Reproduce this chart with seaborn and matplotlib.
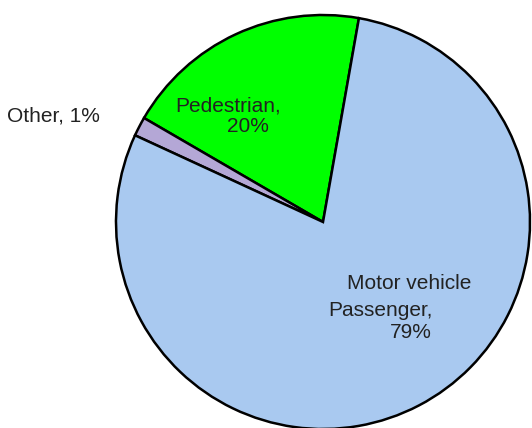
import matplotlib
matplotlib.use("Agg")
import matplotlib.pyplot as plt
import seaborn as sns

categories = ["Pedestrian", "Other", "Motor vehicle Passenger"]
shares = [19.4, 1.5, 79.1]
colors = ["#00ff00", "#b4a7d6", "#a9c9f0"]

# label lines: (text, left px, baseline px)
label_lines = [
    ("Other, 1%", 7, 121),
    ("Pedestrian,", 175, 111),
    ("20%", 227, 132),
    ("Motor vehicle", 347, 289),
    ("Passenger,", 328, 316),
    ("79%", 390, 338),
]

sns.set_theme(style="white")
plt.rcParams["font.family"] = ["Liberation Sans", "DejaVu Sans"]

W, H = 532, 428
CX, CY, R = 323, 222, 207

fig = plt.figure(figsize=(W / 100, H / 100), dpi=100)
ax = fig.add_axes([0, 0, 1, 1])
ax.pie(shares, colors=colors, startangle=80, counterclock=True,
       wedgeprops=dict(edgecolor="black", linewidth=1.8))
ax.set_xlim(-CX / R, (W - CX) / R)
ax.set_ylim(-(H - CY) / R, CY / R)
ax.set_aspect("equal")
ax.axis("off")

for text, px, py in label_lines:
    ax.text((px - CX) / R, (CY - py) / R, text, ha="left", va="baseline",
            fontsize=15, color="#222222")

fig.savefig("out.png", dpi=100)
